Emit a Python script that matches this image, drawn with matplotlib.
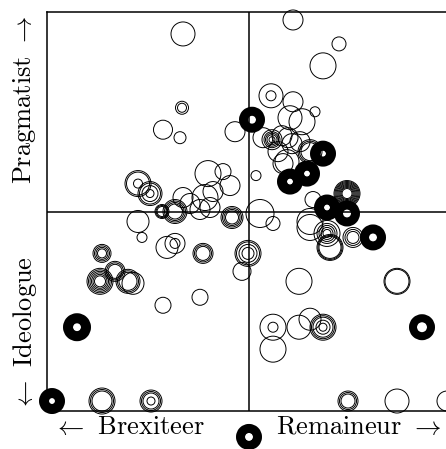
import matplotlib
matplotlib.use("Agg")
import matplotlib.pyplot as plt

plt.rcParams['mathtext.fontset'] = 'cm'
plt.rcParams['font.family'] = 'serif'
plt.rcParams['font.serif'] = ['cmr10', 'DejaVu Serif']
plt.rcParams['axes.formatter.use_mathtext'] = True

# open rings: x = brexit stance, y = pragmatism (both -100..100)
cx = [-33, -33.5, -43, -34.5, -7, -55.5, -49.5, -20.5, -13, -9.5,
      -22, -33, -43.5, -37, -55.5, -53.5, -29.5, -24.5, -18, -41,
      -37, -23, -73.5, -74.5, -67, -60.5, -58, -43, -24.5,
      -73.5, -49, -0.5, -3.5, 5.5, 12, -8.5, 25, 74,
      12, 12, 25, 30.5, 37, 49.5, 74, 99,
      22, 45, 37, 11, 22, 33, 20.5, 26.5, 11.5,
      7, 19.5, 25.5, 14.5, 30.5, 3.5, 49,
      -19.5, 52, 39, 40.5, 30.5, 30.5, 32,
      17, 19, 21.5, 16.5]
cy = [89, 52, 41, 37, 40, 14, 9, 19, 20, 13,
      7, 7, 0, 0, -5, -13, 4, 1, 10, -18,
      -16, -21, -21, -35, -30, -35, -36, -47, -43,
      -95, -95, -21, -30, -1, -6, -3, -35, -35,
      -58, -69, -58, -54, -58, -95, -95, -95,
      96, 84, 73, 58, 55, 50, 47, 45, 36,
      37, 37, 35, 30, 30, 18, 9,
      2, -13, -11, -18, -5, -8, 6,
      24, 25, 34, 38]
# radii (pixels) of the rings drawn at each position
rings = [[12], [6.5, 4.5], [9.5], [6], [10], [13, 11.5, 4.5], [12, 10.5, 8, 4], [13], [8], [10],
         [13], [10], [7, 6, 5], [12, 10.5, 9, 7.5], [11], [5], [10], [10], [10], [11],
         [10, 5], [10, 8.5, 7], [9, 7.5, 6, 4.5], [13, 11.5, 10, 8.5, 7, 5.5], [10, 8.5, 7],
         [12, 10.5, 9], [11], [8], [8],
         [13, 11.5, 10], [11, 9.5, 8, 4], [13, 11.5, 9, 6], [9], [14], [7], [11, 9.5, 8, 6.5],
         [13], [13, 12],
         [13, 5], [13], [12], [11], [13, 11.5, 10, 7, 4], [10, 8.5, 7], [12], [10],
         [10], [7], [13], [12, 5], [10], [5], [12], [13], [10, 8, 6.5, 5, 3],
         [10], [10], [10], [10], [12, 10.5, 9], [5], [13, 12, 11, 10, 9, 8, 7, 6, 5],
         [10], [10, 8, 6], [13, 10, 8, 6, 4], [13, 12, 11], [13], [13], [8],
         [10], [12], [10], [10]]

# solid black rings: centre, outer and inner radius (pixels)
sx = [-86, -98.5, 86.5, 0, 1.5, 37, 20.5, 29, 49, 39, 62]
sy = [-58, -95, -58, -113, 46, 29, 15, 19, -1, 2, -13]
s_outer = [14, 13, 13, 13, 13, 13, 13, 13, 13, 13, 13]
s_inner = [4, 3, 5, 4, 4, 3, 3, 3, 4, 3, 4]

dpi = 100
pt = 72 / dpi
xs, ys, ss = [], [], []
for x, y, rr in zip(cx, cy, rings):
    for r in rr:
        xs.append(x)
        ys.append(y)
        ss.append((2 * r * pt) ** 2)

fig = plt.figure(figsize=(4.46, 4.49), dpi=dpi)
ax = fig.add_axes([47 / 446, 38 / 449, 404 / 446, 399 / 449])

ax.scatter(xs, ys, s=ss, facecolors='none', edgecolors='black', linewidths=0.7,
           clip_on=False, zorder=3)
mid = [(o + i) / 2 for o, i in zip(s_outer, s_inner)]
ax.scatter(sx, sy, s=[(2 * m * pt) ** 2 for m in mid], facecolors='none',
           edgecolors='black', linewidths=[(o - i) * pt for o, i in zip(s_outer, s_inner)],
           clip_on=False, zorder=4)
ax.axhline(0, color='black', lw=1.1, zorder=2)
ax.axvline(0, color='black', lw=1.1, zorder=2)

ax.set_xlim(-101, 101)
ax.set_ylim(-100, 100)
ax.set_xticks([])
ax.set_yticks([])
for sp in ax.spines.values():
    sp.set_linewidth(1.1)

fs = 19
ax.text(0.015, -0.04, r'$\leftarrow$ Brexiteer', transform=ax.transAxes,
        ha='left', va='center', fontsize=fs)
ax.text(0.975, -0.04, r'Remaineur $\rightarrow$', transform=ax.transAxes,
        ha='right', va='center', fontsize=fs)
ax.text(-0.055, 0.0, r'$\leftarrow$ Ideologue', transform=ax.transAxes,
        ha='center', va='bottom', rotation=90, fontsize=fs)
ax.text(-0.055, 0.99, r'Pragmatist $\rightarrow$', transform=ax.transAxes,
        ha='center', va='top', rotation=90, fontsize=fs)

fig.savefig('out.png', dpi=dpi)
